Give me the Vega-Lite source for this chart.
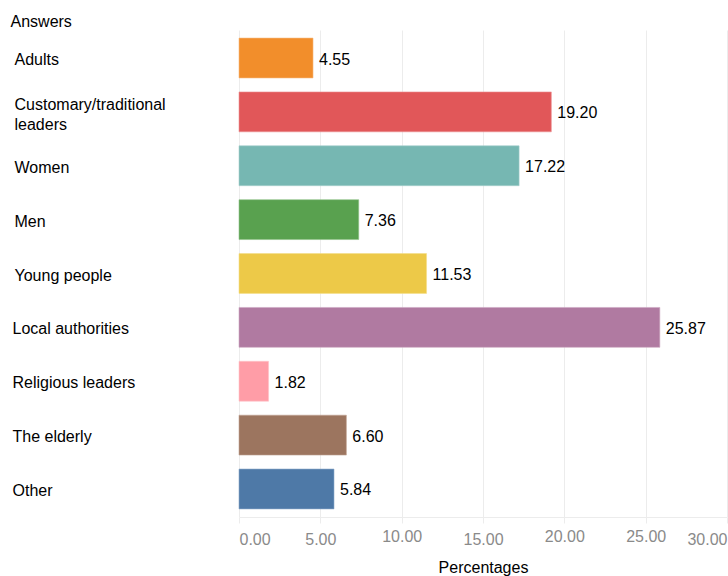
{
  "$schema": "https://vega.github.io/schema/vega-lite/v6.json",
  "autosize": {"type": "none"},
  "width": 488,
  "height": 487,
  "padding": {"left": 239, "top": 30, "right": 1, "bottom": 59},
  "background": "white",
  "config": {
    "view": {"stroke": null},
    "font": "Liberation Sans"
  },
  "data": {
    "values": [
      {"answer": "Adults", "pct": 4.55},
      {"answer": "Customary/traditional leaders", "pct": 19.20},
      {"answer": "Women", "pct": 17.22},
      {"answer": "Men", "pct": 7.36},
      {"answer": "Young people", "pct": 11.53},
      {"answer": "Local authorities", "pct": 25.87},
      {"answer": "Religious leaders", "pct": 1.82},
      {"answer": "The elderly", "pct": 6.60},
      {"answer": "Other", "pct": 5.84}
    ]
  },
  "encoding": {
    "y": {
      "field": "answer",
      "type": "nominal",
      "sort": null,
      "scale": {"paddingInner": 0.26, "paddingOuter": 0.15},
      "axis": {
        "title": "Answers",
        "titleAngle": 0,
        "titleAlign": "left",
        "titleBaseline": "alphabetic",
        "titleX": -229,
        "titleY": -4,
        "titleFont": "Liberation Sans",
        "titleFontSize": 16,
        "titleFontWeight": "normal",
        "titleColor": "#000000",
        "labelAlign": "left",
        "labelPadding": {"condition": {"test": "indexof(['Local authorities','Religious leaders','The elderly','Other'], datum.value) >= 0", "value": 227}, "value": 225},
        "labelOffset": {"condition": {"test": "datum.value == 'Customary/traditional leaders'", "value": -7}, "value": 2},
        "labelFontSize": 16,
        "labelColor": "#000000",
        "labelLineHeight": 20,
        "labelLimit": 300,
        "labelExpr": "datum.label == 'Customary/traditional leaders' ? ['Customary/traditional', 'leaders'] : datum.label",
        "ticks": false,
        "tickSize": 0,
        "domain": false,
        "grid": false
      }
    }
  },
  "layer": [
    {
      "mark": {"type": "bar", "strokeWidth": 1, "strokeOpacity": 0.6},
      "encoding": {
        "x": {
          "field": "pct",
          "type": "quantitative",
          "scale": {"domain": [0, 30], "nice": false},
          "axis": {
            "title": "Percentages",
            "titleFontSize": 16,
            "titleFontWeight": "normal",
            "titleColor": "#000000",
            "titlePadding": 12,
            "format": ".2f",
            "values": [0, 5, 10, 15, 20, 25, 30],
            "labelFontSize": 16,
            "labelColor": "#8a8a8a",
            "labelPadding": {"condition": {"test": "datum.value == 10 || datum.value == 20 || datum.value == 25", "value": 5.5}, "value": 8},
            "labelFlush": true,
            "grid": true,
            "gridColor": "#ececec",
            "domainColor": "#ececec",
            "tickColor": "#ececec",
            "tickSize": 6
          }
        },
        "color": {
          "field": "answer",
          "type": "nominal",
          "legend": null,
          "scale": {
            "domain": ["Adults", "Customary/traditional leaders", "Women", "Men", "Young people", "Local authorities", "Religious leaders", "The elderly", "Other"],
            "range": ["#f28e2b", "#e15759", "#76b7b2", "#59a14f", "#edc948", "#b07aa1", "#ff9da7", "#9c755f", "#4e79a7"]
          }
        },
        "stroke": {
          "field": "answer",
          "type": "nominal",
          "legend": null,
          "scale": {
            "domain": ["Adults", "Customary/traditional leaders", "Women", "Men", "Young people", "Local authorities", "Religious leaders", "The elderly", "Other"],
            "range": ["#f7b77a", "#ec9294", "#a6d0cd", "#91c289", "#f4dd8a", "#cda6c2", "#ffc4ca", "#c1a594", "#8aa8c9"]
          }
        }
      }
    },
    {
      "mark": {"type": "text", "align": "left", "baseline": "middle", "dx": 6, "dy": 1.5, "fontSize": 16, "color": "#000000"},
      "encoding": {
        "x": {"field": "pct", "type": "quantitative"},
        "text": {"field": "pct", "type": "quantitative", "format": ".2f"}
      }
    }
  ]
}
